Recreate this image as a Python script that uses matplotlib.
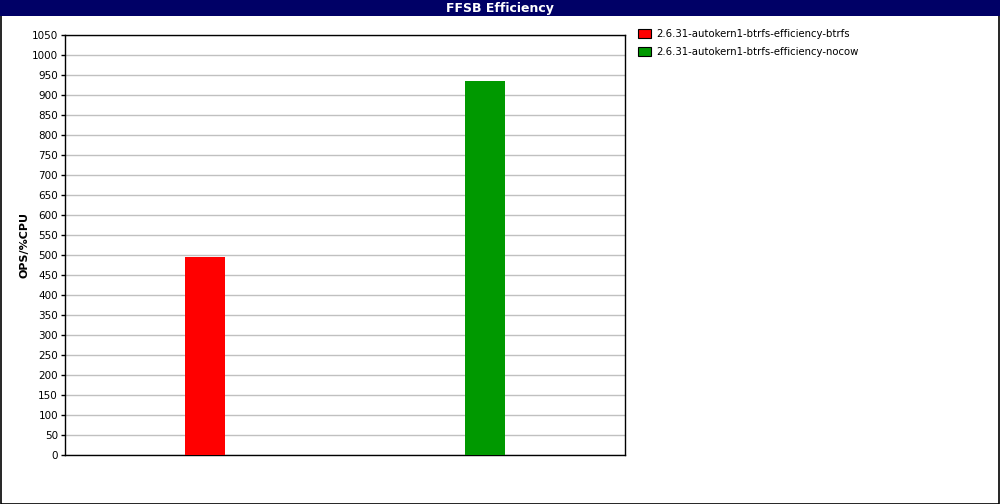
import matplotlib
matplotlib.use("Agg")
import matplotlib.pyplot as plt
from matplotlib.patches import Rectangle

title = "FFSB Efficiency"
series_names = ["2.6.31-autokern1-btrfs-efficiency-btrfs",
                "2.6.31-autokern1-btrfs-efficiency-nocow"]
values = [495, 935]
colors = ["#ff0000", "#009900"]
ylabel = "OPS/%CPU"
yticks = list(range(0, 1051, 50))

W, H = 1000, 504
fig = plt.figure(figsize=(W / 100, H / 100), dpi=100)
fig.patch.set_facecolor("white")

# outer border
fig.patches.append(Rectangle((0.5 / W, 0.5 / H), 1 - 1.5 / W, 1 - 1.5 / H,
                             transform=fig.transFigure, fill=False,
                             edgecolor="black", linewidth=1.2))
# title band
fig.patches.append(Rectangle((0, 1 - 16 / H), 1, 16 / H, transform=fig.transFigure,
                             facecolor="#000066", edgecolor="none"))
fig.text(0.5, 1 - 8.5 / H, title, color="white", ha="center", va="center",
         fontsize=9, fontweight="bold", family="DejaVu Sans")

ax = fig.add_axes([65 / W, 1 - 455 / H, 560 / W, 420 / H])
xs = list(range(len(values)))
bars = ax.bar(xs, values, width=40 / 280, color=colors, zorder=3)
ax.set_xlim(-0.5, 1.5)
ax.set_ylim(0, 1050)
ax.set_yticks(yticks)
ax.set_yticklabels([str(t) for t in yticks], fontsize=7.5)
ax.set_xticks([])
ax.grid(axis="y", color="#c0c0c0", linewidth=1, zorder=0)
for s in ax.spines.values():
    s.set_linewidth(1)
ax.tick_params(axis="y", length=3, width=1, pad=2)
ax.set_ylabel(ylabel, fontsize=8, fontweight="bold", labelpad=2)

# legend
for i, (name, c) in enumerate(zip(series_names, colors)):
    y = 34 + 18 * i
    fig.patches.append(Rectangle((638 / W, 1 - (y + 4) / H), 13 / W, 9 / H,
                                 transform=fig.transFigure, facecolor=c,
                                 edgecolor="black", linewidth=0.8))
    fig.text(656 / W, 1 - y / H, name, fontsize=7.3, va="center", ha="left")

fig.savefig("out.png", dpi=100)
